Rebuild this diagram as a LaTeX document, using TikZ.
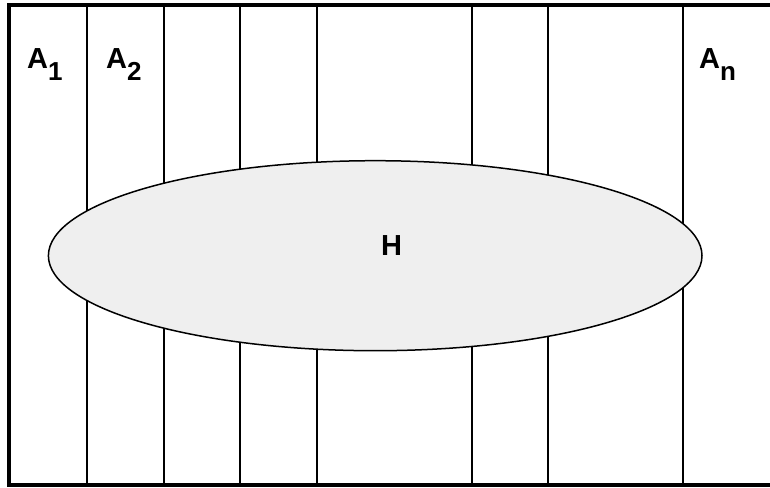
\documentclass[tikz,border=0pt]{standalone}
\usepackage{fontspec}
\setmainfont{Liberation Sans}
\usetikzlibrary{shapes.geometric}
\definecolor{ellfill}{RGB}{239,239,239}
\newcommand\subtxt[1]{\raisebox{-12pt}{\fontsize{26}{30}\selectfont #1}}
\begin{document}
\begin{tikzpicture}[x=1pt,y=-1pt,
  frame/.style={draw=black,line width=3.4pt},
  divider/.style={draw=black,line width=1.3pt},
  blob/.style={ellipse,draw=black,line width=1.5pt,fill=ellfill,inner sep=0pt,
    minimum width=653.6pt,minimum height=190pt},
  lbl/.style={inner sep=0pt,anchor=base west,font=\bfseries\fontsize{29}{33}\selectfont}]
\useasboundingbox (0,0) rectangle (770,487);
\draw[frame] (780,5) -- (9,5) -- (9,485) -- (780,485);
\foreach \x in {87,164,240,317,472,548,683}
  \draw[divider] (\x,5) -- (\x,485);
\node[blob] (E) at (375.2,255.7) {};
\node[lbl] (H) at (381,255) {H};
\node[lbl] (A1) at (27,68) {A\subtxt{1}};
\node[lbl] (A2) at (106,68) {A\subtxt{2}};
\node[lbl] (An) at (699,68) {A\subtxt{n}};
\end{tikzpicture}
\end{document}
